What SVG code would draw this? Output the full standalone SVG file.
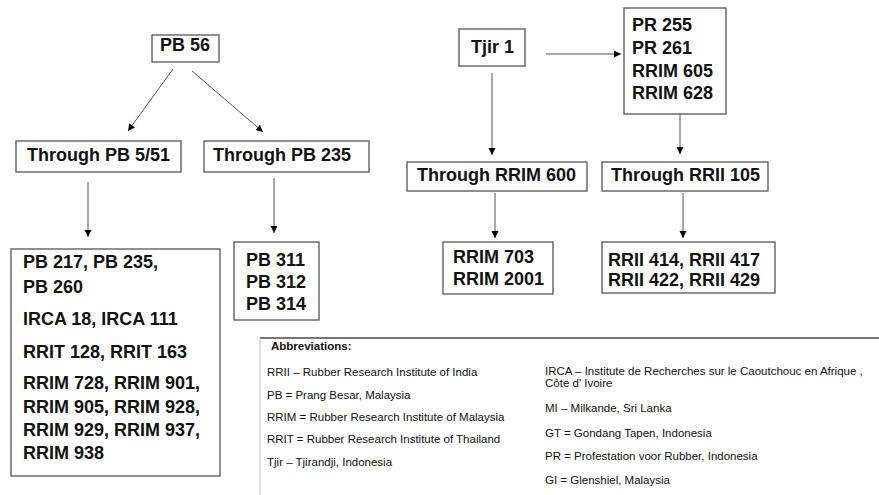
<svg xmlns="http://www.w3.org/2000/svg" width="879" height="495" viewBox="0 0 879 495">
<style>
.box{fill:#fff;stroke:#555;stroke-width:1.3}
.t{font-family:"Liberation Sans",Arial,sans-serif;font-weight:bold;font-size:18px;fill:#111}
.c{stroke:#555;stroke-width:1;fill:none}
.a{font-family:"Liberation Sans",Arial,sans-serif;font-size:11.5px;fill:#111}
</style>
<defs>
<marker id="ah" markerUnits="userSpaceOnUse" markerWidth="8" markerHeight="8" refX="7" refY="4" orient="auto">
<path d="M0,0.5 L7,4 L0,7.5 z" fill="#000"/>
</marker>
</defs>
<rect width="879" height="495" fill="#fff"/>
<g id="connectors">
<line class="c" x1="173" y1="69" x2="128" y2="131" marker-end="url(#ah)"/>
<line class="c" x1="192" y1="71" x2="263" y2="132" marker-end="url(#ah)"/>
<line class="c" x1="88" y1="182" x2="88" y2="237" marker-end="url(#ah)"/>
<line class="c" x1="274" y1="178" x2="274" y2="233" marker-end="url(#ah)"/>
<line class="c" x1="492" y1="73" x2="492" y2="155" marker-end="url(#ah)"/>
<line class="c" x1="546" y1="54" x2="621" y2="54" marker-end="url(#ah)"/>
<line class="c" x1="680" y1="114" x2="680" y2="154" marker-end="url(#ah)"/>
<line class="c" x1="495" y1="193" x2="495" y2="238" marker-end="url(#ah)"/>
<line class="c" x1="683" y1="193" x2="683" y2="238" marker-end="url(#ah)"/>
</g>
<g id="pb56">
<rect class="box" x="152" y="35" width="67" height="27"/>
<text class="t" x="160" y="51">PB 56</text>
</g>
<g id="through-pb551">
<rect class="box" x="16" y="141" width="165" height="31"/>
<text class="t" x="27" y="161">Through PB 5/51</text>
</g>
<g id="through-pb235">
<rect class="box" x="204" y="141" width="165" height="31"/>
<text class="t" x="213" y="161">Through PB 235</text>
</g>
<g id="pb-list">
<rect class="box" x="11" y="249" width="209" height="227"/>
<text class="t" x="23" y="268">PB 217, PB 235,</text>
<text class="t" x="23" y="293">PB 260</text>
<text class="t" x="23" y="325">IRCA 18, IRCA 111</text>
<text class="t" x="23" y="358">RRIT 128, RRIT 163</text>
<text class="t" x="23" y="389">RRIM 728, RRIM 901,</text>
<text class="t" x="23" y="413">RRIM 905, RRIM 928,</text>
<text class="t" x="23" y="436">RRIM 929, RRIM 937,</text>
<text class="t" x="23" y="459">RRIM 938</text>
</g>
<g id="pb31x">
<rect class="box" x="234" y="242" width="85" height="78"/>
<text class="t" x="246" y="266">PB 311</text>
<text class="t" x="246" y="288">PB 312</text>
<text class="t" x="246" y="310">PB 314</text>
</g>
<g id="tjir1">
<rect class="box" x="459" y="29" width="66" height="37"/>
<text class="t" x="471" y="53">Tjir 1</text>
</g>
<g id="pr-list">
<rect class="box" x="624" y="8" width="102" height="106"/>
<text class="t" x="632" y="31">PR 255</text>
<text class="t" x="632" y="54">PR 261</text>
<text class="t" x="632" y="77">RRIM 605</text>
<text class="t" x="632" y="99">RRIM 628</text>
</g>
<g id="through-rrim600">
<rect class="box" x="407" y="162" width="180" height="29"/>
<text class="t" x="417" y="181">Through RRIM 600</text>
</g>
<g id="through-rrii105">
<rect class="box" x="602" y="162" width="166" height="29"/>
<text class="t" x="611" y="181">Through RRII 105</text>
</g>
<g id="rrim70x">
<rect class="box" x="443" y="242" width="110" height="52"/>
<text class="t" x="453" y="263">RRIM 703</text>
<text class="t" x="453" y="285">RRIM 2001</text>
</g>
<g id="rrii41x">
<rect class="box" x="602" y="242" width="173" height="51"/>
<text class="t" x="608" y="266">RRII 414, RRII 417</text>
<text class="t" x="608" y="286">RRII 422, RRII 429</text>
</g>
<g id="abbreviations">
<line x1="260" y1="338" x2="879" y2="338" stroke="#777" stroke-width="2"/>
<line x1="260" y1="338" x2="260" y2="495" stroke="#ccc" stroke-width="1.2"/>
<text class="a" x="271" y="350" font-weight="bold" font-size="10.5">Abbreviations:</text>
<text class="a" x="267" y="376">RRII – Rubber Research Institute of India</text>
<text class="a" x="267" y="399">PB = Prang Besar, Malaysia</text>
<text class="a" x="267" y="421">RRIM = Rubber Research Institute of Malaysia</text>
<text class="a" x="267" y="443">RRIT = Rubber Research Institute of Thailand</text>
<text class="a" x="267" y="466">Tjir – Tjirandji, Indonesia</text>
<text class="a" x="545" y="375">IRCA – Institute de Recherches sur le Caoutchouc en Afrique ,</text>
<text class="a" x="545" y="387">Côte d' Ivoire</text>
<text class="a" x="545" y="412">MI – Milkande, Sri Lanka</text>
<text class="a" x="545" y="437">GT = Gondang Tapen, Indonesia</text>
<text class="a" x="545" y="460">PR = Profestation voor Rubber, Indonesia</text>
<text class="a" x="545" y="484">GI = Glenshiel, Malaysia</text>
</g>
</svg>
